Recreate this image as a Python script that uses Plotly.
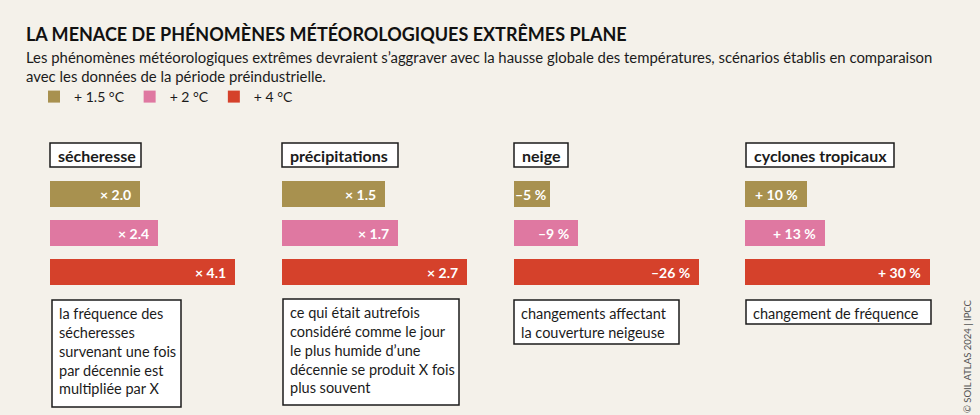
import plotly.graph_objects as go

# ---------------- data ----------------
scenarios = ["+ 1.5 °C", "+ 2 °C", "+ 4 °C"]
scenario_colors = ["#a8914f", "#df78a1", "#d5412b"]

categories = ["sécheresse", "précipitations", "neige", "cyclones tropicaux"]

drought_values = [2.0, 2.4, 4.1]
precip_values = [1.5, 1.7, 2.7]
snow_values = [-5, -9, -26]
cyclone_values = [10, 13, 30]

drought_labels = ["× 2.0", "× 2.4", "× 4.1"]
precip_labels = ["× 1.5", "× 1.7", "× 2.7"]
snow_labels = ["–5 %", "–9 %", "–26 %"]
cyclone_labels = ["+ 10 %", "+ 13 %", "+ 30 %"]

notes = [
    "la fréquence des<br>sécheresses<br>survenant une fois<br>par décennie est<br>multipliée par X",
    "ce qui était autrefois<br>considéré comme le jour<br>le plus humide d’une<br>décennie se produit X fois<br>plus souvent",
    "changements affectant<br>la couverture neigeuse",
    "changement de fréquence",
]

title = "LA MENACE DE PHÉNOMÈNES MÉTÉOROLOGIQUES EXTRÊMES PLANE"
subtitle = ("Les phénomènes météorologiques extrêmes devraient s’aggraver avec la hausse globale des températures, "
            "scénarios établis en comparaison<br>avec les données de la période préindustrielle.")
credit = "© SOIL ATLAS 2024 | IPCC"

panel_values = [drought_values, precip_values, snow_values, cyclone_values]
panel_labels = [drought_labels, precip_labels, snow_labels, cyclone_labels]

# ---------------- layout helpers ----------------
W, H = 980, 415
FONT = "Lato"
INK = "#1b1b1b"
BG = "#f4f1ea"


def px(x):
    return x / W


def py(y):
    return 1 - y / H


panel_left = [50, 282, 514, 745]
panel_width = 185
header_boxes = [(50, 141), (282, 398), (514, 568), (746, 894)]
note_boxes = [(52, 181, 300, 407), (283, 459, 299, 405), (514, 679, 300, 344), (746, 931, 300, 324)]

fig = go.Figure()
annotations = []
shapes = []

for i, (vals, labs) in enumerate(zip(panel_values, panel_labels)):
    sfx = "" if i == 0 else str(i + 1)
    xa, ya = "x" + sfx, "y" + sfx
    mags = [abs(v) for v in vals]
    for j, scen in enumerate(scenarios):
        fig.add_trace(go.Bar(
            x=[mags[j]], y=[scen], orientation="h",
            marker=dict(color=scenario_colors[j], line=dict(width=0)),
            name=scen, legendgroup=scen, showlegend=(i == 0),
            xaxis=xa, yaxis=ya, hoverinfo="skip",
        ))
        bar_px = mags[j] / max(mags) * panel_width
        annotations.append(dict(
            x=mags[j], y=scen, xref=xa, yref=ya, xanchor="right", yanchor="middle",
            xshift=-7 if bar_px > 50 else -2, text=f"<b>{labs[j]}</b>", showarrow=False,
            font=dict(family=FONT, size=14, color="white"),
        ))
    fig.layout["xaxis" + sfx] = dict(
        domain=[px(panel_left[i]), px(panel_left[i] + panel_width)],
        range=[0, max(mags)], visible=False, fixedrange=True, anchor=ya,
    )
    fig.layout["yaxis" + sfx] = dict(
        domain=[py(292), py(174.5)], type="category", categoryorder="array",
        categoryarray=scenarios, autorange="reversed", visible=False, fixedrange=True, anchor=xa,
    )

    # header box
    hx0, hx1 = header_boxes[i]
    shapes.append(dict(type="rect", xref="paper", yref="paper", x0=px(hx0), x1=px(hx1),
                       y0=py(167), y1=py(143), line=dict(color=INK, width=1.5), fillcolor="white", layer="below"))
    annotations.append(dict(x=px(hx0 + 6), y=py(155), xref="paper", yref="paper", xanchor="left",
                            yanchor="middle", text=f"<b>{categories[i]}</b>", showarrow=False,
                            font=dict(family=FONT, size=16, color=INK)))
    # note box
    nx0, nx1, ny0, ny1 = note_boxes[i]
    shapes.append(dict(type="rect", xref="paper", yref="paper", x0=px(nx0), x1=px(nx1),
                       y0=py(ny1), y1=py(ny0), line=dict(color=INK, width=1.5), fillcolor="white", layer="below"))
    annotations.append(dict(x=px(nx0 + 5), y=py(ny0 + 3), xref="paper", yref="paper", xanchor="left",
                            yanchor="top", align="left", text=notes[i], showarrow=False,
                            font=dict(family=FONT, size=14.5, color=INK)))

annotations.append(dict(x=px(24), y=py(34), xref="paper", yref="paper", xanchor="left", yanchor="middle",
                        text=f"<b>{title}</b>", showarrow=False, font=dict(family=FONT, size=18, color="#111")))
annotations.append(dict(x=px(24), y=py(46), xref="paper", yref="paper", xanchor="left", yanchor="top",
                        align="left", text=subtitle, showarrow=False,
                        font=dict(family=FONT, size=14.9, color=INK)))
annotations.append(dict(x=px(967), y=py(356), xref="paper", yref="paper", xanchor="center", yanchor="middle",
                        textangle=-90, text=credit, showarrow=False,
                        font=dict(family=FONT, size=9.5, color="#555")))

fig.update_layout(
    width=W, height=H,
    margin=dict(l=0, r=0, t=0, b=0),
    paper_bgcolor=BG, plot_bgcolor=BG,
    barmode="stack", bargap=0.333,
    showlegend=True,
    legend=dict(orientation="h", x=px(34), y=py(97), xanchor="left", yanchor="middle",
                font=dict(family=FONT, size=14, color=INK), bgcolor="rgba(0,0,0,0)",
                itemclick=False, itemdoubleclick=False, traceorder="normal"),
    annotations=annotations, shapes=shapes,
)

fig.write_html(
    "out.html",
    config={"displayModeBar": False, "staticPlot": True},
    post_script="document.body.style.margin='0';document.body.style.background='" + BG + "';",
)
